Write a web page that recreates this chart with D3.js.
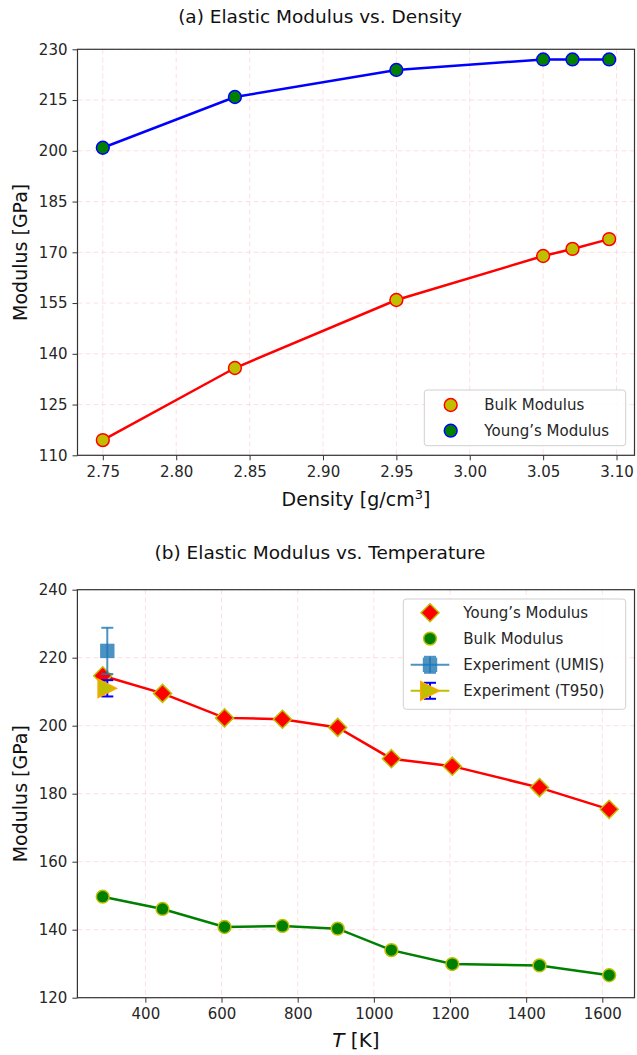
<!DOCTYPE html>
<html>
<head>
<meta charset="utf-8">
<script src="https://cdn.jsdelivr.net/npm/d3@7"></script>
<style>
  html, body { margin: 0; padding: 0; background: #fff; }
  svg { display: block; font-family: "DejaVu Sans", sans-serif; }
</style>
</head>
<body>
<svg id="chart" width="637" height="1055"></svg>
<script>
// ---- Panel (a): modulus vs. density ----
const density = [2.75, 2.84, 2.95, 3.05, 3.07, 3.095];
const bulkByDensity = [114.5, 135.8, 155.9, 168.9, 171.0, 173.9];
const youngByDensity = [200.9, 215.9, 223.9, 227.0, 227.0, 227.0];
const densityTicks = [2.75, 2.80, 2.85, 2.90, 2.95, 3.00, 3.05, 3.10];
const modulusTicksA = [110, 125, 140, 155, 170, 185, 200, 215, 230];

// ---- Panel (b): modulus vs. temperature ----
const temperature = [288, 445, 608, 760, 905, 1046, 1206, 1435, 1618];
const youngByTemp = [214.7, 209.5, 202.3, 201.9, 199.5, 190.3, 188.1, 181.8, 175.4];
const bulkByTemp = [149.7, 146.1, 140.8, 141.1, 140.3, 134.0, 129.9, 129.5, 126.6];
const umisT = [300], umisE = [222.0], umisErr = [6.8];
const t950T = [300], t950E = [211.0], t950Err = [2.4];
const tempTicks = [400, 600, 800, 1000, 1200, 1400, 1600];
const modulusTicksB = [120, 140, 160, 180, 200, 220, 240];

const svg = d3.select("#chart");
const TXT = "#262626";
const OLIVE = "#bfbf00";
const TAB_BLUE = "#1f77b4";
const TICK_FS = "15px", LEGEND_FS = "15px", LABEL_FS = "19px", TITLE_FS = "18.5px";

function padded(ext) {
  const span = ext[1] - ext[0];
  return [ext[0] - span * 0.05, ext[1] + span * 0.05];
}

function frame(g, x, y, xTicks, yTicks, xFmt, w, h) {
  // grid
  const grid = g.append("g").attr("stroke", "#ffb6c1").attr("stroke-opacity", 0.45)
    .attr("stroke-dasharray", "5,3").attr("stroke-width", 1);
  xTicks.forEach(t => grid.append("line").attr("x1", x(t)).attr("x2", x(t)).attr("y1", 0).attr("y2", h));
  yTicks.forEach(t => grid.append("line").attr("y1", y(t)).attr("y2", y(t)).attr("x1", 0).attr("x2", w));

  const ax = g.append("g").attr("transform", `translate(0,${h})`)
    .call(d3.axisBottom(x).tickValues(xTicks).tickFormat(xFmt).tickSizeInner(5).tickSizeOuter(0).tickPadding(6));
  const ay = g.append("g")
    .call(d3.axisLeft(y).tickValues(yTicks).tickSizeInner(5).tickSizeOuter(0).tickPadding(5));
  [ax, ay].forEach(a => {
    a.select(".domain").remove();
    a.selectAll("line").attr("stroke", "#333").attr("stroke-width", 1);
    a.selectAll("text").attr("fill", TXT).style("font-size", TICK_FS).style("font-family", "DejaVu Sans");
  });
  // spines
  g.append("rect").attr("width", w).attr("height", h).attr("fill", "none")
    .attr("stroke", "#333").attr("stroke-width", 1.2);
}

function circleMark(sel, fill, edge) {
  return sel.append("circle").attr("r", 6.4).attr("fill", fill).attr("stroke", edge).attr("stroke-width", 1.5);
}
function diamondMark(sel) {
  const r = 9;
  return sel.append("path").attr("d", `M0,${-r}L${r},0L0,${r}L${-r},0Z`)
    .attr("fill", "#ff0000").attr("stroke", OLIVE).attr("stroke-width", 1.5);
}
function squareMark(sel) {
  const s = 7.2;
  return sel.append("rect").attr("x", -s).attr("y", -s).attr("width", 2 * s).attr("height", 2 * s)
    .attr("fill", TAB_BLUE).attr("fill-opacity", 0.8);
}
function triangleMark(sel) {
  const s = 9.2;
  return sel.append("path").attr("d", `M${s},0L${-s},${-s}L${-s},${s}Z`)
    .attr("fill", OLIVE).attr("stroke", "#ffa500").attr("stroke-width", 1.5);
}

function legendBox(g, x0, y0, w, h) {
  g.append("rect").attr("x", x0).attr("y", y0).attr("width", w).attr("height", h)
    .attr("rx", 3).attr("fill", "#fff").attr("fill-opacity", 0.85)
    .attr("stroke", "#d0d0d0").attr("stroke-width", 1);
}
function legendText(g, x0, y0, s) {
  g.append("text").attr("x", x0).attr("y", y0).attr("dy", "0.35em")
    .attr("fill", TXT).style("font-size", LEGEND_FS).text(s);
}

// ================= Panel (a) =================
{
  const L = 77.5, T = 49.3, W = 557, H = 406;
  const g = svg.append("g").attr("transform", `translate(${L},${T})`);
  const x = d3.scaleLinear().domain(padded(d3.extent(density))).range([0, W]);
  const y = d3.scaleLinear().domain([110, 230]).range([H, 0]);
  frame(g, x, y, densityTicks, modulusTicksA, d3.format(".2f"), W, H);

  const line = d3.line().x(d => x(d[0])).y(d => y(d[1]));
  const bulkPts = density.map((d, i) => [d, bulkByDensity[i]]);
  const youngPts = density.map((d, i) => [d, youngByDensity[i]]);

  g.append("path").attr("d", line(youngPts)).attr("fill", "none").attr("stroke", "#0000ff").attr("stroke-width", 2.5);
  g.append("path").attr("d", line(bulkPts)).attr("fill", "none").attr("stroke", "#ff0000").attr("stroke-width", 2.5);
  bulkPts.forEach(p => circleMark(g.append("g").attr("transform", `translate(${x(p[0])},${y(p[1])})`), OLIVE, "#ff0000"));
  youngPts.forEach(p => circleMark(g.append("g").attr("transform", `translate(${x(p[0])},${y(p[1])})`), "#008000", "#0000ff"));

  // legend
  const lg = svg.append("g");
  legendBox(lg, 424.3, 390, 201.4, 55.7);
  circleMark(lg.append("g").attr("transform", "translate(450.7,405)"), OLIVE, "#ff0000");
  legendText(lg, 484.3, 405, "Bulk Modulus");
  circleMark(lg.append("g").attr("transform", "translate(450.7,430.7)"), "#008000", "#0000ff");
  legendText(lg, 484.3, 430.7, "Young\u2019s Modulus");

  svg.append("text").attr("x", 320).attr("y", 23).attr("text-anchor", "middle")
    .attr("fill", "#111").style("font-size", TITLE_FS).text("(a) Elastic Modulus vs. Density");
  const xl = svg.append("text").attr("x", L + W / 2).attr("y", 506).attr("text-anchor", "middle")
    .attr("fill", "#111").style("font-size", LABEL_FS);
  xl.append("tspan").text("Density [g/cm");
  xl.append("tspan").attr("dy", -7).style("font-size", "13px").text("3");
  xl.append("tspan").attr("dy", 7).text("]");
  svg.append("text").attr("transform", `translate(27,${T + H / 2}) rotate(-90)`).attr("text-anchor", "middle")
    .attr("fill", "#111").style("font-size", LABEL_FS).text("Modulus [GPa]");
}

// ================= Panel (b) =================
{
  const L = 77.4, T = 589.7, W = 557.1, H = 408;
  const g = svg.append("g").attr("transform", `translate(${L},${T})`);
  const x = d3.scaleLinear().domain(padded(d3.extent(temperature.concat(umisT, t950T)))).range([0, W]);
  const y = d3.scaleLinear().domain([120, 240]).range([H, 0]);
  frame(g, x, y, tempTicks, modulusTicksB, d3.format("d"), W, H);

  const line = d3.line().x(d => x(d[0])).y(d => y(d[1]));
  const youngPts = temperature.map((t, i) => [t, youngByTemp[i]]);
  const bulkPts = temperature.map((t, i) => [t, bulkByTemp[i]]);

  g.append("path").attr("d", line(youngPts)).attr("fill", "none").attr("stroke", "#ff0000").attr("stroke-width", 2.5);
  youngPts.forEach(p => diamondMark(g.append("g").attr("transform", `translate(${x(p[0])},${y(p[1])})`)));
  g.append("path").attr("d", line(bulkPts)).attr("fill", "none").attr("stroke", "#008000").attr("stroke-width", 2.5);
  bulkPts.forEach(p => circleMark(g.append("g").attr("transform", `translate(${x(p[0])},${y(p[1])})`), "#008000", OLIVE));

  // error bars with caps
  function errBar(sel, cx, lo, hi, color, opacity) {
    const eb = sel.append("g").attr("stroke", color).attr("stroke-opacity", opacity).attr("stroke-width", 2);
    eb.append("line").attr("x1", cx).attr("x2", cx).attr("y1", lo).attr("y2", hi);
    eb.append("line").attr("x1", cx - 6).attr("x2", cx + 6).attr("y1", lo).attr("y2", lo);
    eb.append("line").attr("x1", cx - 6).attr("x2", cx + 6).attr("y1", hi).attr("y2", hi);
  }
  umisT.forEach((t, i) => {
    errBar(g, x(t), y(umisE[i] - umisErr[i]), y(umisE[i] + umisErr[i]), TAB_BLUE, 0.8);
    squareMark(g.append("g").attr("transform", `translate(${x(t)},${y(umisE[i])})`));
  });
  t950T.forEach((t, i) => {
    errBar(g, x(t), y(t950E[i] - t950Err[i]), y(t950E[i] + t950Err[i]), "#0000ff", 1);
    triangleMark(g.append("g").attr("transform", `translate(${x(t)},${y(t950E[i])})`));
  });

  // legend
  const lg = svg.append("g");
  legendBox(lg, 403.3, 599, 222.4, 110.3);
  const rows = [612.8, 638.6, 664.8, 690.8];
  const hx = 430, tx = 463.3;
  diamondMark(lg.append("g").attr("transform", `translate(${hx},${rows[0]})`));
  legendText(lg, tx, rows[0], "Young\u2019s Modulus");
  circleMark(lg.append("g").attr("transform", `translate(${hx},${rows[1]})`), "#008000", OLIVE);
  legendText(lg, tx, rows[1], "Bulk Modulus");
  lg.append("line").attr("x1", 410.7).attr("x2", 449.3).attr("y1", rows[2]).attr("y2", rows[2])
    .attr("stroke", TAB_BLUE).attr("stroke-opacity", 0.8).attr("stroke-width", 2);
  errBar(lg, hx, rows[2] - 8, rows[2] + 8, TAB_BLUE, 0.8);
  squareMark(lg.append("g").attr("transform", `translate(${hx},${rows[2]})`));
  legendText(lg, tx, rows[2], "Experiment (UMIS)");
  lg.append("line").attr("x1", 410.7).attr("x2", 449.3).attr("y1", rows[3]).attr("y2", rows[3])
    .attr("stroke", OLIVE).attr("stroke-width", 2);
  errBar(lg, hx, rows[3] - 8, rows[3] + 8, "#0000ff", 1);
  triangleMark(lg.append("g").attr("transform", `translate(${hx},${rows[3]})`));
  legendText(lg, tx, rows[3], "Experiment (T950)");

  svg.append("text").attr("x", 320).attr("y", 559).attr("text-anchor", "middle")
    .attr("fill", "#111").style("font-size", TITLE_FS).text("(b) Elastic Modulus vs. Temperature");
  const xl = svg.append("text").attr("x", L + W / 2).attr("y", 1047).attr("text-anchor", "middle")
    .attr("fill", "#111").style("font-size", "20px");
  xl.append("tspan").style("font-style", "italic").text("T");
  xl.append("tspan").text(" [K]");
  svg.append("text").attr("transform", `translate(27,${T + H / 2}) rotate(-90)`).attr("text-anchor", "middle")
    .attr("fill", "#111").style("font-size", LABEL_FS).text("Modulus [GPa]");
}
</script>
</body>
</html>
